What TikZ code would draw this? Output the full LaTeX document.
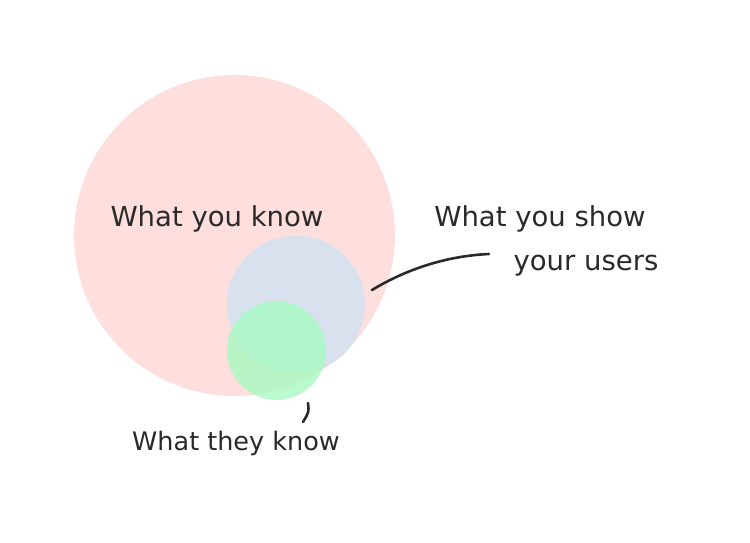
\documentclass[tikz,border=0pt]{standalone}
\usepackage{fontspec}
\setmainfont{DejaVu Sans}
\usetikzlibrary{positioning}
\definecolor{knowpink}{HTML}{FFDEDE}
\definecolor{showblue}{HTML}{D9E1EF}
\definecolor{theygreen}{HTML}{A8FAC2}
\definecolor{inkgrey}{HTML}{2A2A2A}
\newcommand{\labelsize}{\fontsize{27.5}{33}\selectfont}

\begin{document}
\begin{tikzpicture}[x=1pt,y=-1pt,
	blob/.style={circle,inner sep=0pt,draw=none},
	ink/.style={line width=2.6pt,draw=inkgrey,line cap=round},
	caption/.style={font=\labelsize,text=inkgrey,inner sep=0pt,anchor=base}]
	\useasboundingbox (0,0) rectangle (750,543);

	\node[blob,fill=knowpink,minimum size=321pt] (know) at (234.5,235.5) {};
	\node[blob,fill=showblue,minimum size=138pt] (show) at (296,304.5) {};
	\node[blob,fill=theygreen,fill opacity=0.8,minimum size=99pt] (they) at (276.5,350.5) {};

	\node[caption] (know text) at (217,226) {What you know};
	\node[caption] (show text) at (540,226) {What you show};
	\node[caption] (users text) at (586,270) {your users};
	\node[caption,font=\fontsize{25.5}{30}\selectfont] (they text) at (236,450) {What they know};

	\coordinate (show tip) at (372,290);
	\coordinate (users tip) at (489,254);
	\coordinate (they top) at (308,403);
	\coordinate (they end) at (303,422);

	\draw[ink] (show tip) .. controls (405,270) and (445,256) .. (users tip);
	\draw[ink] (they top) .. controls (309,412) .. (they end);

\end{tikzpicture}
\end{document}
